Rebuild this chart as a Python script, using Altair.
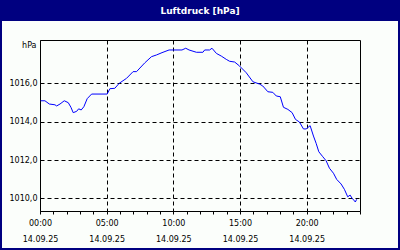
import altair as alt
import pandas as pd

# Time of day in hours (14.09.25) and air pressure in hPa
hours = [0.05, 0.37, 0.70, 1.12, 1.25, 1.50, 1.82, 2.12, 2.32, 2.49, 2.75, 2.90, 3.09, 3.29,
         3.54, 3.87, 5.04, 5.24, 5.61, 5.94, 6.49, 6.98, 7.24, 7.86, 8.36, 8.74, 9.15, 9.68,
         10.65, 10.93, 11.18, 11.73, 12.22, 12.35, 12.72, 12.90, 13.23, 13.60, 13.97, 14.22,
         14.60, 14.97, 15.47, 15.97, 16.47, 16.71, 17.09, 17.46, 17.72, 18.02, 18.26, 18.59,
         18.91, 19.16, 19.46, 19.76, 19.96, 20.26, 20.51, 20.71, 20.91, 21.21, 21.46, 21.71,
         22.01, 22.25, 22.58, 22.83, 23.08, 23.26, 23.41, 23.53, 23.65, 23.75]
pressure = [1015.09, 1015.09, 1014.92, 1014.88, 1014.82, 1014.92, 1015.09, 1014.99, 1014.75,
            1014.47, 1014.54, 1014.67, 1014.61, 1014.78, 1015.20, 1015.44, 1015.44, 1015.72,
            1015.74, 1016.00, 1016.26, 1016.61, 1016.61, 1017.07, 1017.39, 1017.48, 1017.60,
            1017.74, 1017.74, 1017.83, 1017.74, 1017.62, 1017.62, 1017.74, 1017.74, 1017.83,
            1017.56, 1017.42, 1017.25, 1017.15, 1017.11, 1016.90, 1016.55, 1016.08, 1015.96,
            1015.86, 1015.56, 1015.53, 1015.34, 1015.30, 1014.75, 1014.64, 1014.47, 1014.12,
            1013.98, 1013.62, 1013.62, 1013.79, 1013.25, 1012.87, 1012.43, 1012.17, 1011.96,
            1011.57, 1011.31, 1010.99, 1010.75, 1010.47, 1010.08, 1010.17, 1010.00, 1009.91,
            1009.81, 1009.95]
y_ticks = [1010, 1012, 1014, 1016]
x_ticks = list(range(25))
date_label = "14.09.25"
title_text = "Luftdruck [hPa]"
unit_text = "hPa"

df = pd.DataFrame({"h": hours, "p": pressure})
one = alt.Data(values=[{}])
NAVY = "#000080"
FONT = "DejaVu Sans"

# decoration: title bar and frame
bar = alt.Chart(one).mark_rect(color=NAVY).encode(
    x=alt.value(-40), x2=alt.value(360), y=alt.value(-40), y2=alt.value(-19))
frame = alt.Chart(one).mark_rect(fill=None, stroke=NAVY, strokeWidth=4).encode(
    x=alt.value(-40), x2=alt.value(360), y=alt.value(-40), y2=alt.value(210))
title = alt.Chart(one).mark_text(
    text=title_text, color="white", font=FONT, fontSize=9, fontWeight="bold",
    align="center", baseline="middle").encode(x=alt.value(160), y=alt.value(-29.5))

line = alt.Chart(df).mark_line(color="#0000ff", strokeWidth=1).encode(
    x=alt.X("h:Q", scale=alt.Scale(domain=[0, 24], nice=False, zero=False),
            axis=alt.Axis(
                values=x_ticks, title=None,
                labelExpr=("datum.value % 5 == 0 ? [(datum.value < 10 ? '0' : '') + datum.value + ':00', '"
                           + date_label + "'] : ''"),
                labelLineHeight=16, labelPadding=5, labelFont=FONT, labelFontSize=8,
                labelColor="black", labelOverlap=False, labelFlush=False, labelBound=False,
                tickSize=3, tickColor="black", domainColor="black",
                gridColor="black", gridDash=[4, 3],
                gridOpacity={"condition": {"test": "datum.value % 5 == 0 && datum.value > 0 && datum.value < 24", "value": 1}, "value": 0},
            )),
    y=alt.Y("p:Q", scale=alt.Scale(domain=[1009.34, 1018.26], nice=False, zero=False),
            axis=alt.Axis(
                values=y_ticks, title=unit_text, titleAngle=0, titleX=-4, titleY=5,
                titleAlign="right", titleBaseline="middle", titleFont=FONT,
                titleFontSize=8, titleFontWeight="normal", titleColor="black",
                labelExpr="replace(format(datum.value, '.1f'), '.', ',')",
                labelFont=FONT, labelFontSize=8, labelColor="black", labelPadding=3,
                ticks=False, tickSize=0, domainColor="black",
                gridColor="black", gridDash=[4, 3],
            )),
)

chart = alt.layer(bar, frame, title, line).properties(
    width=320, height=171,
    autosize=alt.AutoSizeParams(type="none"),
    padding={"left": 40, "top": 40, "right": 40, "bottom": 39},
    background="#fbfefb",
).configure_view(stroke="black", strokeWidth=1)

chart.save("out.html", embed_options={"renderer": "svg", "actions": False})
